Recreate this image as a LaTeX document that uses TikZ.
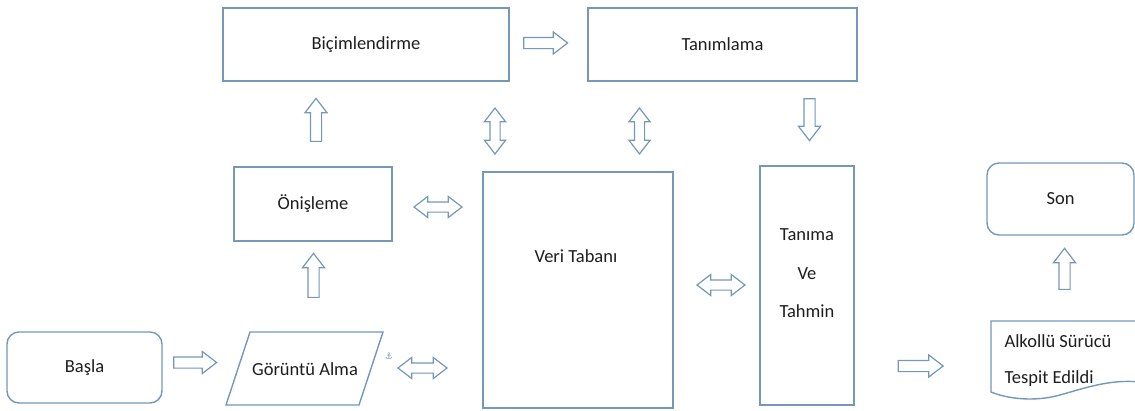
\documentclass[tikz,border=0pt]{standalone}
\usepackage{fontspec}
\setmainfont{Carlito}
\newfontfamily\symfont{DejaVu Sans}
\usetikzlibrary{shapes.arrows}
\definecolor{boxblue}{RGB}{115,152,184}
\definecolor{inkgray}{RGB}{30,30,30}
\tikzset{
	box/.style={draw=boxblue, line width=1.4pt, fill=white, text=inkgray, font=\fontsize{18.5}{22}\selectfont},
	txt/.style={text=inkgray, font=\fontsize{18.5}{22}\selectfont},
	outline/.style={draw=boxblue, line width=1.4pt, fill=white},
	rarrow/.style={single arrow, draw=boxblue, line width=1.2pt, fill=white, inner xsep=0pt, inner ysep=5pt, single arrow head extend=5.5pt, single arrow tip angle=75, minimum height=#1},
	darrow/.style={double arrow, draw=boxblue, line width=1.2pt, fill=white, inner xsep=0pt, inner ysep=4.5pt, double arrow head extend=5.5pt, double arrow tip angle=75, minimum height=#1}
}
\begin{document}
\begin{tikzpicture}[x=1pt, y=-1pt]
		\useasboundingbox (0,0) rectangle (1135,410);
		\node[box, rounded corners=12pt, minimum width=155pt, minimum height=71pt] (start) at (84.5,367.5) {Başla};
		\draw[outline] (250,332) -- (383,332) -- (359,405) -- (226,405) -- cycle;
		\node[txt] (capture) at (305,369) {Görüntü Alma};
		\node[text=boxblue, font=\symfont\fontsize{9}{9}\selectfont] (anchor) at (389,356) {⚓};
		\node[box, minimum width=158pt, minimum height=74pt] (prep) at (313,204) {Önişleme};
		\node[box, minimum width=286pt, minimum height=73pt] (format) at (366,44.5) {Biçimlendirme};
		\node[box, minimum width=269pt, minimum height=73pt] (ident) at (722.5,44.5) {Tanımlama};
		\node[box, minimum width=190pt, minimum height=236pt] (db) at (578,290) {};
		\node[txt] (dblabel) at (576,256) {Veri Tabanı};
		\node[box, minimum width=94pt, minimum height=239pt] (recog) at (807,285.5) {};
		\node[txt, align=center, font=\fontsize{18.5}{38.5}\selectfont] (recoglabel) at (807,273.5) {Tanıma\\Ve\\Tahmin};
		\node[box, rounded corners=12pt, minimum width=147pt, minimum height=72pt] (finish) at (1060.5,199) {Son};
		\draw[outline] (1140,382) -- (1140,321) -- (991,321) -- (991,392) .. controls (1008,399) and (1035,402) .. (1060,395) .. controls (1085,388) and (1110,379) .. (1140,382);
		\node[txt, align=left, anchor=west, font=\fontsize{18.5}{36}\selectfont] (found) at (1001,361) {Alkollü Sürücü\\Tespit Edildi};
		\node[rarrow=43pt] (a1) at (191.5,362.5) {};
		\node[darrow=49pt] (a2) at (422.5,368) {};
		\node[rarrow=44pt, rotate=90] (a3) at (313.5,279) {};
		\node[rarrow=43pt, rotate=90] (a4) at (316,123.5) {};
		\node[darrow=48pt] (a5) at (438,207) {};
		\node[rarrow=44pt] (a6) at (542,43) {};
		\node[darrow=46pt, rotate=90] (a7) at (495,131) {};
		\node[darrow=46pt, rotate=90] (a8) at (639.5,131) {};
		\node[rarrow=42pt, rotate=-90] (a9) at (809.5,116) {};
		\node[darrow=48pt] (a10) at (721,285) {};
		\node[rarrow=45pt] (a11) at (917,366) {};
		\node[rarrow=41pt, rotate=90] (a12) at (1064.5,272.5) {};
\end{tikzpicture}
\end{document}
